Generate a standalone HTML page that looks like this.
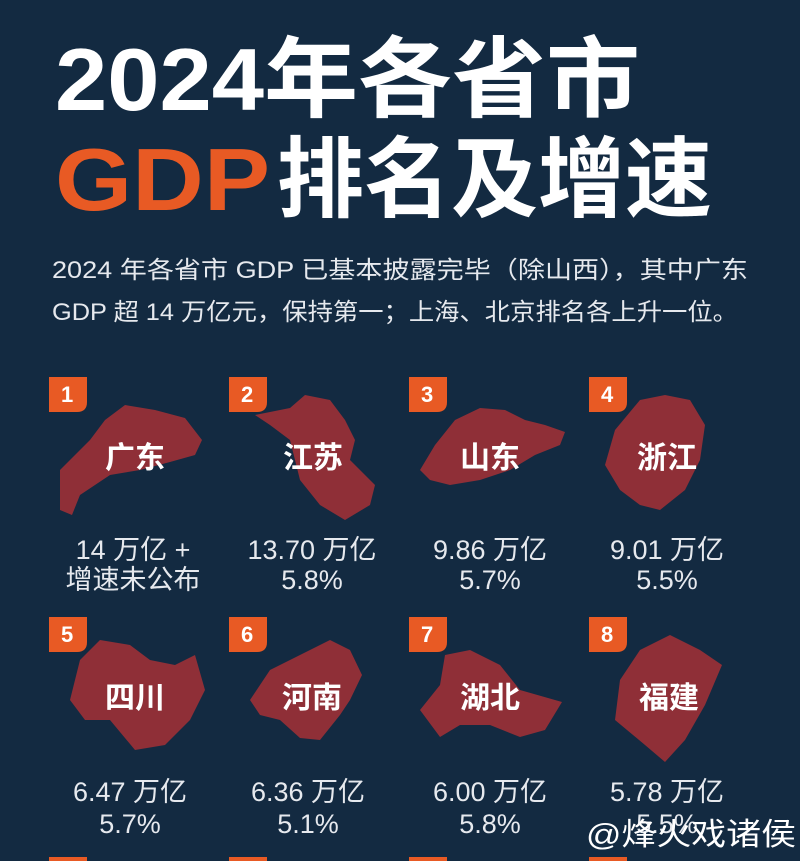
<!DOCTYPE html>
<html><head><meta charset="utf-8"><style>
html,body{margin:0;padding:0;background:#132a41;}
svg{display:block}
</style></head><body>
<svg width="800" height="861" viewBox="0 0 800 861" xmlns="http://www.w3.org/2000/svg" font-family="'Liberation Sans','Noto Sans CJK SC',sans-serif">
<rect width="800" height="861" fill="#132a41"/>
<text x="55" y="110" font-size="88" font-weight="bold" fill="#fff" textLength="585" lengthAdjust="spacingAndGlyphs">2024年各省市</text>
<text x="55" y="210" font-size="88" font-weight="bold" fill="#e85a24" textLength="215" lengthAdjust="spacingAndGlyphs">GDP</text>
<text x="277" y="210" font-size="88" font-weight="bold" fill="#fff" textLength="435" lengthAdjust="spacingAndGlyphs">排名及增速</text>
<text x="52" y="278" font-size="24" fill="#e6e9ee" textLength="696" lengthAdjust="spacingAndGlyphs">2024 年各省市 GDP 已基本披露完毕（除山西），其中广东</text>
<text x="52" y="320" font-size="24" fill="#e6e9ee" textLength="686" lengthAdjust="spacingAndGlyphs">GDP 超 14 万亿元，保持第一；上海、北京排名各上升一位。</text>

<g fill="#8f2f37">
<polygon points="60,500 60,470 90,440 105,420 125,405 155,410 185,418 202,440 195,455 170,462 140,470 110,475 80,495 72,515 60,510"/>
<polygon points="255,415 290,408 305,395 330,400 345,420 355,440 350,460 375,485 370,505 345,520 320,505 300,480 290,440 270,425"/>
<polygon points="420,470 435,445 455,420 480,408 505,410 525,420 545,425 565,432 560,445 535,455 510,470 480,480 450,485 430,480"/>
<polygon points="605,465 615,430 640,400 665,395 690,400 705,425 700,460 685,490 660,510 640,505 620,490"/>
<polygon points="70,700 80,660 100,640 130,645 150,660 175,665 195,655 205,690 190,720 165,745 135,750 110,720 85,720"/>
<polygon points="250,700 270,670 300,655 330,640 350,650 362,675 350,700 340,715 320,740 300,738 280,720 260,715"/>
<polygon points="420,710 440,685 445,655 470,650 500,665 520,690 562,702 545,730 520,737 490,725 460,725 440,737"/>
<polygon points="615,720 620,680 640,650 670,635 700,650 722,665 705,705 685,740 665,762 645,745"/>
</g>

<g fill="#e85a24">
<path d="M49 377h38v25q0 10-10 10h-28z"/>
<path d="M229 377h38v25q0 10-10 10h-28z"/>
<path d="M409 377h38v25q0 10-10 10h-28z"/>
<path d="M589 377h38v25q0 10-10 10h-28z"/>
<path d="M49 617h38v25q0 10-10 10h-28z"/>
<path d="M229 617h38v25q0 10-10 10h-28z"/>
<path d="M409 617h38v25q0 10-10 10h-28z"/>
<path d="M589 617h38v25q0 10-10 10h-28z"/>
<rect x="49" y="857" width="38" height="4"/>
<rect x="229" y="857" width="38" height="4"/>
<rect x="409" y="857" width="38" height="4"/>
<rect x="589" y="857" width="38" height="4"/>
</g>
<g fill="#fff" font-size="22" font-weight="bold">
<text x="61" y="402">1</text><text x="241" y="402">2</text><text x="421" y="402">3</text><text x="601" y="402">4</text>
<text x="61" y="642">5</text><text x="241" y="642">6</text><text x="421" y="642">7</text><text x="601" y="642">8</text>
</g>
<g fill="#fff" font-size="30" font-weight="bold" text-anchor="middle">
<text x="135" y="468">广东</text><text x="313" y="468">江苏</text><text x="490" y="468">山东</text><text x="667" y="468">浙江</text>
<text x="135" y="708">四川</text><text x="312" y="708">河南</text><text x="490" y="708">湖北</text><text x="669" y="708">福建</text>
</g>
<g fill="#e6e9ee" font-size="27" text-anchor="middle">
<text x="133" y="559">14 万亿 +</text><text x="133" y="589">增速未公布</text>
<text x="312" y="559">13.70 万亿</text><text x="312" y="589">5.8%</text>
<text x="490" y="559">9.86 万亿</text><text x="490" y="589">5.7%</text>
<text x="667" y="559">9.01 万亿</text><text x="667" y="589">5.5%</text>
<text x="130" y="801">6.47 万亿</text><text x="130" y="833">5.7%</text>
<text x="308" y="801">6.36 万亿</text><text x="308" y="833">5.1%</text>
<text x="490" y="801">6.00 万亿</text><text x="490" y="833">5.8%</text>
<text x="667" y="801">5.78 万亿</text><text x="667" y="833">5.5%</text>
</g>
<text x="586" y="845" font-size="31" fill="#fff" textLength="210" lengthAdjust="spacingAndGlyphs">@烽火戏诸侯</text>
</svg>
</body></html>
